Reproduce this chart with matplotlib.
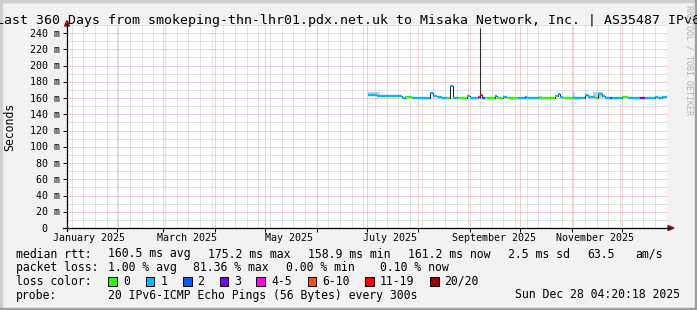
import numpy as np
import pandas as pd
import matplotlib
matplotlib.use('Agg')
import matplotlib.pyplot as plt
import matplotlib.dates as mdates
import matplotlib.ticker as mtick
import matplotlib.transforms as mtrans
from matplotlib.patches import Rectangle, Polygon
from matplotlib.lines import Line2D

W, H = 697, 310
MONO = 'DejaVu Sans Mono'

t_start = pd.Timestamp('2025-01-02 04:20:18')
t_end = pd.Timestamp('2025-12-28 04:20:18')

title = 'Last 360 Days from smokeping-thn-lhr01.pdx.net.uk to Misaka Network, Inc. | AS35487 IPv6'

# median rtt (start day, ms, loss class)
seg_start = ['2025-07-02', '2025-07-07', '2025-07-22', '2025-07-24', '2025-07-28',
             '2025-08-08', '2025-08-10', '2025-08-12', '2025-08-15', '2025-08-18',
             '2025-08-20', '2025-08-22', '2025-08-25', '2025-08-30', '2025-09-01',
             '2025-09-05', '2025-09-06', '2025-09-07', '2025-09-08', '2025-09-10',
             '2025-09-16', '2025-09-17', '2025-09-21', '2025-09-23', '2025-09-30',
             '2025-10-04', '2025-10-05', '2025-10-13', '2025-10-18', '2025-10-22',
             '2025-10-24', '2025-10-25', '2025-10-27', '2025-11-02', '2025-11-09',
             '2025-11-11', '2025-11-15', '2025-11-17', '2025-11-19', '2025-11-21',
             '2025-11-24', '2025-11-25', '2025-12-01', '2025-12-05', '2025-12-12',
             '2025-12-15', '2025-12-21', '2025-12-23', '2025-12-25']
seg_rtt = [164.0, 163.0, 160.5, 161.8, 159.8,
           166.0, 162.0, 161.0, 160.2, 160.0,
           175.2, 160.0, 160.0, 162.8, 160.0,
           160.0, 161.0, 163.5, 159.8, 160.0,
           162.0, 160.0, 161.5, 160.0, 160.0,
           161.8, 160.0, 160.0, 160.0, 162.0,
           164.5, 161.0, 160.0, 160.0, 163.5,
           161.0, 160.0, 165.5, 162.0, 160.0,
           160.0, 160.5, 161.5, 160.0, 160.0,
           160.0, 161.0, 160.0, 161.2]
seg_loss = [1, 1, 1, 0, 1, 1, 1, 1, 1, 0,
            1, 1, 0, 1, 1, 0, 4, 6, 2, 0,
            1, 0, 1, 0, 1, 1, 1, 0, 0, 0,
            1, 1, 0, 1, 1, 1, 0, 1, 1, 1,
            2, 1, 0, 1, 3, 1, 1, 1, 1]

# smoke (spread of the pings) where it shows
smoke_start = ['2025-07-02', '2025-10-12', '2025-11-01', '2025-11-14', '2025-11-09']
smoke_end = ['2025-07-09', '2025-10-14', '2025-11-03', '2025-11-20', '2025-11-11']
smoke_lo = [163.0, 160.0, 160.0, 160.0, 161.0]
smoke_hi = [168.0, 162.5, 167.5, 168.0, 164.0]

spike_date = '2025-09-07'
spike_lo, spike_hi = 160.0, 246.0

loss_colors = ['#26ff00', '#00b8ff', '#0059ff', '#7e00ff',
               '#ff00ff', '#ff5500', '#ff0000', '#a00000']
loss_labels = ['0', '1', '2', '3', '4-5', '6-10', '11-19', '20/20']

month_labels = ['January 2025', 'March 2025', 'May 2025',
                'July 2025', 'September 2025', 'November 2025']
month_label_dates = ['2025-01-15', '2025-03-15', '2025-05-15',
                     '2025-07-15', '2025-09-15', '2025-11-15']

y_ticks = list(range(0, 241, 20))


def fx(x):
    return x / W


def fy(y):
    return 1 - y / H


fig = plt.figure(figsize=(W / 100, H / 100), dpi=100)
fig.patch.set_facecolor('#f2f2f2')

ax = fig.add_axes([fx(67), fy(228), 600 / W, 203 / H])
ax.set_facecolor('white')
ax.set_xlim(t_start.to_pydatetime(), t_end.to_pydatetime())
ax.set_ylim(0, 250)

# grid
ax.xaxis.set_major_locator(mdates.MonthLocator())
ax.xaxis.set_minor_locator(mdates.WeekdayLocator(byweekday=mdates.SU))
ax.yaxis.set_major_locator(mtick.MultipleLocator(20))
ax.yaxis.set_minor_locator(mtick.MultipleLocator(10))
ax.grid(True, which='minor', color='#c4c4c4', linestyle=(0, (1, 1)), linewidth=0.72)
ax.grid(True, which='major', color='#f09a9a', linestyle=(0, (1, 1)), linewidth=0.72)
ax.set_axisbelow(True)
ax.tick_params(which='major', length=2.6, width=0.72, direction='out',
               labelbottom=False, labelleft=False)
ax.tick_params(which='minor', length=0)
for s in ax.spines.values():
    s.set_visible(False)

# smoke
for a, b, lo, hi in zip(smoke_start, smoke_end, smoke_lo, smoke_hi):
    d = pd.to_datetime([a, b]).to_pydatetime()
    ax.fill_between(d, [lo, lo], [hi, hi], color='#cdcdcd', lw=0, zorder=2)
ax.vlines(pd.Timestamp(spike_date).to_pydatetime(), spike_lo, spike_hi,
          color='#303030', lw=0.8, zorder=3)

# median line, black underneath, loss-coloured on top
starts = list(pd.to_datetime(seg_start).to_pydatetime())
ends = starts[1:] + [t_end.to_pydatetime()]
ax.step(starts + [ends[-1]], seg_rtt + [seg_rtt[-1]], where='post',
        color='#202020', lw=0.72, zorder=4)
rtt = np.array(seg_rtt)
loss = np.array(seg_loss)
for k, c in enumerate(loss_colors):
    m = loss == k
    if m.any():
        ax.hlines(rtt[m], np.array(starts)[m], np.array(ends)[m],
                  colors=c, lw=1.7, zorder=5)

# axis lines + arrows
fig.add_artist(Line2D([fx(63), fx(670)], [fy(228), fy(228)], color='black', lw=0.9))
fig.add_artist(Line2D([fx(67), fx(67)], [fy(231), fy(24)], color='black', lw=0.9))
fig.add_artist(Polygon([(fx(668), fy(225.5)), (fx(668), fy(230.5)), (fx(674), fy(228))],
                       closed=True, color='#8f1616', transform=fig.transFigure))
fig.add_artist(Polygon([(fx(64.5), fy(26)), (fx(69.5), fy(26)), (fx(67), fy(20.5))],
                       closed=True, color='#8f1616', transform=fig.transFigure))

# y tick labels
ytrans = mtrans.blended_transform_factory(fig.transFigure, ax.transData) + \
    mtrans.ScaledTranslation(0, -0.036, fig.dpi_scale_trans)
for v in y_ticks:
    lab = f'{v} m' if v else '0'
    xr = 60 if v else 47.5
    ax.text(fx(xr), v, lab, transform=ytrans, ha='right', va='baseline',
            fontsize=7.2, family=MONO, clip_on=False)

# month labels
xtrans = mtrans.blended_transform_factory(ax.transData, fig.transFigure)
for d, lab in zip(month_label_dates, month_labels):
    ax.text(pd.Timestamp(d + ' 04:20').to_pydatetime(), fy(241), lab, transform=xtrans,
            ha='center', va='baseline', fontsize=7.2, family=MONO, clip_on=False)

# titles
fig.text(fx(348.5), fy(24), title, ha='center', va='baseline', fontsize=9.5, family=MONO)
fig.text(fx(10), fy(127), 'Seconds', rotation=90, ha='center', va='center',
         fontsize=8.3, family=MONO)
fig.text(fx(689), fy(60), 'RRDTOOL / TOBI OETIKER', rotation=270, ha='center',
         va='center', fontsize=6, color='#b0b0b0', family=MONO)

# legend
lf = dict(fontsize=8.3, family=MONO, va='baseline')
row1 = [(16, 'median rtt:'), (107.6, '160.5 ms avg'), (207.6, '175.2 ms max'),
        (308, '158.9 ms min'), (408, '161.2 ms now'), (507.6, '2.5 ms sd'),
        (587.6, '63.5'), (635.6, 'am/s')]
row2 = [(16, 'packet loss:'), (107.6, '1.00 % avg'), (193, '81.36 % max'),
        (286, '0.00 % min'), (379.6, '0.10 % now')]
for x, s in row1:
    fig.text(fx(x), fy(257.5), s, **lf)
for x, s in row2:
    fig.text(fx(x), fy(271), s, **lf)

fig.text(fx(16), fy(285), 'loss color:', **lf)
box_x = [108.4, 145.8, 183, 219.6, 256.4, 307.6, 365.3, 430]
for x, c, lab in zip(box_x, loss_colors, loss_labels):
    fig.add_artist(Rectangle((fx(x), fy(286)), 8.5 / W, 9.5 / H, transform=fig.transFigure,
                             facecolor=c, edgecolor='black', lw=0.7))
    fig.text(fx(x + 14.6), fy(285), lab, **lf)

fig.text(fx(16), fy(298.5), 'probe:', **lf)
fig.text(fx(107.6), fy(298.5), '20 IPv6-ICMP Echo Pings (56 Bytes) every 300s', **lf)
fig.text(fx(680), fy(298.5), 'Sun Dec 28 04:20:18 2025', ha='right',
         fontsize=8.3, family=MONO, va='baseline')

# 3d frame like rrdtool
fig.add_artist(Rectangle((0, fy(2)), 1, 2 / H, transform=fig.transFigure, color='#cfcfcf'))
fig.add_artist(Rectangle((0, 0), 2 / W, 1, transform=fig.transFigure, color='#cfcfcf'))
fig.add_artist(Rectangle((fx(W - 2), 0), 2 / W, 1, transform=fig.transFigure, color='#9e9e9e'))
fig.add_artist(Rectangle((0, 0), 1, 2 / H, transform=fig.transFigure, color='#9e9e9e'))

fig.savefig('out.png', dpi=100, facecolor=fig.get_facecolor())
